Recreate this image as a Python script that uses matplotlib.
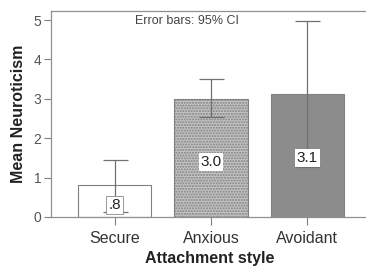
import matplotlib
matplotlib.use("Agg")
import matplotlib.pyplot as plt
import numpy as np

categories = ["Secure", "Anxious", "Avoidant"]
means = [0.81, 3.0, 3.12]
ci_low = [0.13, 2.54, 1.27]
ci_high = [1.45, 3.5, 4.97]
bar_labels = [".8", "3.0", "3.1"]
label_y = [0.3, 1.4, 1.5]
yticks = [0, 1, 2, 3, 4, 5]

plt.rcParams['font.family'] = ['Liberation Sans', 'DejaVu Sans']
plt.rcParams['hatch.color'] = '#707070'
plt.rcParams['hatch.linewidth'] = 1.0

fig = plt.figure(figsize=(3.66, 2.77), dpi=100)
ax = fig.add_axes([51/366, 60/277, 317/366, 206/277])

x = np.arange(len(categories))
faces = ['white', '#c4c4c4', '#8c8c8c']
hatches = [None, '......', None]
for i in range(len(categories)):
    ax.bar(x[i], means[i], width=0.76, color=faces[i], edgecolor='#808080',
           linewidth=0.8, hatch=hatches[i], zorder=2)
err = [np.array(means) - np.array(ci_low), np.array(ci_high) - np.array(means)]
ax.errorbar(x, means, yerr=err, fmt='none', ecolor='#707070', elinewidth=0.9,
            capsize=9, capthick=0.9, zorder=3)
for i in range(len(categories)):
    ax.text(x[i], label_y[i], bar_labels[i], ha='center', va='center', fontsize=11,
            color='#222222', zorder=4,
            bbox=dict(boxstyle='square,pad=0.12', facecolor='white',
                      edgecolor='#888888' if i == 0 else 'none', linewidth=0.6))

ax.set_xlim(-0.66, 2.63)
ax.set_ylim(0, 5.23)
ax.set_xticks(x)
ax.set_xticklabels(categories, fontsize=11.5, color='#333333')
ax.set_yticks(yticks)
ax.set_yticklabels([str(v) for v in yticks], fontsize=10, color='#555555')
ax.tick_params(axis='x', length=6, color='#808080', width=0.8, pad=4)
ax.tick_params(axis='y', length=5, color='#808080', width=0.8, pad=2)
for s in ax.spines.values():
    s.set_color('#909090')
    s.set_linewidth(0.9)
ax.set_xlabel("Attachment style", fontsize=11.5, fontweight='bold', color='#222222', labelpad=4)
ax.set_ylabel("Mean Neuroticism", fontsize=11.5, fontweight='bold', color='#222222', labelpad=5)
ax.text(0.75, 4.98, "Error bars: 95% CI", ha='center', va='center', fontsize=9, color='#444444')

fig.savefig("out.png", dpi=100)
